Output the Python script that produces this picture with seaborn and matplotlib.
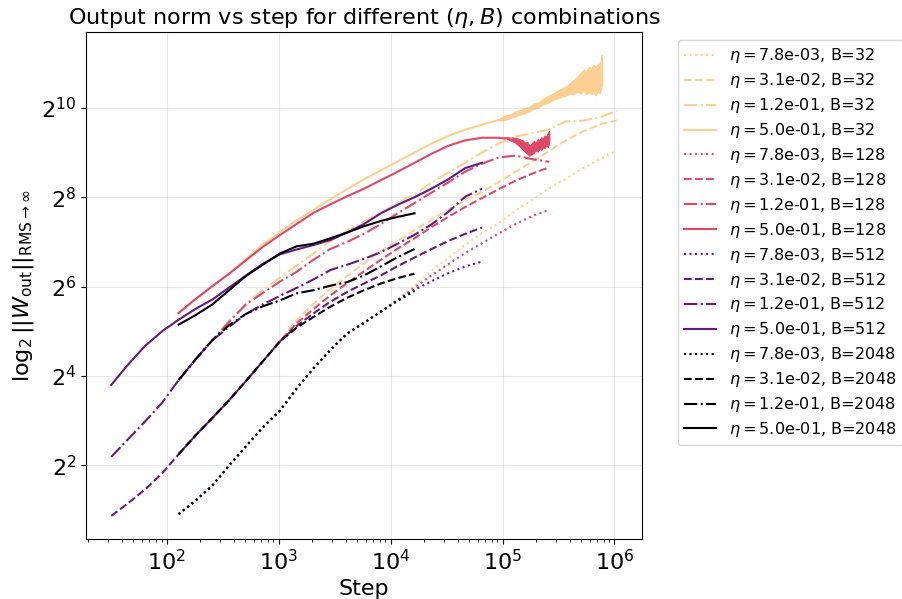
import numpy as np
import pandas as pd
import matplotlib
matplotlib.use("Agg")
import matplotlib.pyplot as plt
import matplotlib.ticker as mticker
import seaborn as sns

# ---------------- data ----------------
# logged steps (log-spaced grid, index 0..30)
STEPS = [32, 45, 64, 91, 128, 181, 256, 362, 512, 724, 1024, 1448, 2048, 2896,
         4096, 5793, 8192, 11585, 16384, 23170, 32768, 46341, 65536, 92682,
         131072, 185364, 262144, 370728, 524288, 741455, 1048576]

LRS = [0.0078125, 0.03125, 0.125, 0.5]
BATCHES = [32, 128, 512, 2048]

# log2 of the output norm, per (lr, B); B=512 starts at STEPS[0], others at STEPS[4]
# lr = 7.8e-03 (dotted)
dot_common = [0.91, 1.21, 1.55, 2.00, 2.43, 2.85, 3.22, 3.72, 4.17, 4.58, 4.95, 5.19, 5.44]
lr1_b2048 = dot_common + [5.68, 5.90]
lr1_b512 = dot_common + [5.70, 5.93, 6.12, 6.30, 6.45, 6.56]
lr1_b128 = dot_common + [5.70, 5.98, 6.25, 6.50, 6.75, 6.97, 7.19, 7.40, 7.58, 7.72]
lr1_b32 = dot_common + [5.72, 6.02, 6.35, 6.64, 6.93, 7.20, 7.42, 7.70, 7.95, 8.20,
                        8.42, 8.65, 8.85, 9.04]

# lr = 3.1e-02 (dashed)
dash_b512_early = [0.87, 1.15, 1.46, 1.82]
dash_common = [2.25, 2.67, 3.06, 3.46, 3.89, 4.33, 4.77]
lr2_b2048 = dash_common + [5.08, 5.32, 5.55, 5.75, 5.92, 6.07, 6.19, 6.29]
lr2_b512 = dash_b512_early + dash_common + [5.12, 5.40, 5.66, 5.88, 6.07, 6.25, 6.46,
                                            6.65, 6.84, 7.02, 7.18, 7.32]
lr2_b128 = dash_common + [5.18, 5.50, 5.80, 6.08, 6.34, 6.60, 6.85, 7.08, 7.33, 7.56,
                          7.78, 7.98, 8.18, 8.37, 8.53, 8.67]
lr2_b32 = dash_common + [5.25, 5.62, 5.94, 6.24, 6.52, 6.80, 7.02, 7.26, 7.50, 7.72,
                         7.93, 8.12, 8.34, 8.57, 8.80, 9.04, 9.28, 9.47, 9.63, 9.72]

# lr = 1.2e-01 (dash-dot)
dd_b512_early = [2.19, 2.58, 2.98, 3.40]
dd_common = [3.91, 4.37, 4.80]
lr3_b2048 = dd_common + [5.14, 5.39, 5.56, 5.69, 5.85, 5.92, 6.02, 6.10, 6.25, 6.45,
                         6.66, 6.84]
lr3_b512 = dd_b512_early + dd_common + [5.10, 5.39, 5.60, 5.79, 5.97, 6.16, 6.37, 6.49,
                                        6.62, 6.77, 6.96, 7.16, 7.39, 7.67, 8.01, 8.19]
lr3_b128 = dd_common + [5.22, 5.60, 5.86, 6.11, 6.33, 6.60, 6.84, 7.00, 7.18, 7.40,
                        7.64, 7.87, 8.10, 8.33, 8.57, 8.75, 8.89, 8.93, 8.85, 8.79]
lr3_b32 = dd_common + [5.22, 5.62, 5.92, 6.20, 6.47, 6.74, 7.02, 7.24, 7.45, 7.66,
                       7.86, 8.07, 8.32, 8.55, 8.77, 9.00, 9.20, 9.36, 9.43, 9.52,
                       9.70, 9.71, 9.79, 9.93]

# lr = 5.0e-01 (solid)
lr4_b512 = [3.80, 4.25, 4.67, 5.00, 5.26, 5.50, 5.71, 5.98, 6.25, 6.51, 6.72, 6.83,
            6.93, 7.04, 7.21, 7.40, 7.64, 7.83, 8.00, 8.19, 8.40, 8.65, 8.77]
lr4_b2048 = [5.15, 5.36, 5.60, 5.92, 6.24, 6.49, 6.74, 6.90, 6.96, 7.08, 7.21, 7.35,
             7.47, 7.56, 7.64]
lr4_b128 = [5.41, 5.72, 6.01, 6.29, 6.59, 6.89, 7.15, 7.40, 7.65, 7.84, 8.02, 8.19,
            8.38, 8.57, 8.77, 8.97, 9.15, 9.27, 9.33, 9.33]
lr4_b32 = [5.41, 5.72, 6.01, 6.29, 6.62, 6.94, 7.22, 7.48, 7.72, 7.95, 8.18, 8.40,
           8.60, 8.80, 9.00, 9.20, 9.37, 9.51, 9.62, 9.73]

# noisy tails of the eta=0.5 runs: lower / upper envelope of the oscillation (log2)
b128_tail_steps = [92682, 110000, 120000, 130000, 140000, 150000, 158000, 166000,
                   174000, 182000, 190000, 198000, 206000, 214000, 222000, 230000,
                   238000, 246000, 254000, 260000, 262144]
b128_tail_lo = [9.33, 9.30, 9.26, 9.22, 9.15, 9.08, 9.02, 8.97, 8.93, 8.96, 8.99,
                9.05, 9.02, 9.08, 9.06, 9.12, 9.10, 9.15, 9.12, 9.20, 9.28]
b128_tail_hi = [9.33, 9.34, 9.34, 9.33, 9.30, 9.28, 9.22, 9.24, 9.15, 9.20, 9.26,
                9.22, 9.30, 9.28, 9.34, 9.32, 9.38, 9.36, 9.44, 9.48, 9.46]
b32_tail_steps = [92682, 100000, 110000, 120000, 130000, 145000, 160000, 175000,
                  190000, 210000, 230000, 250000, 275000, 300000, 330000, 360000,
                  400000, 430000, 470000, 500000, 530000, 560000, 590000, 620000,
                  650000, 680000, 710000, 740000, 755000, 762000, 770000, 776000]
b32_tail_lo = [9.73, 9.72, 9.74, 9.78, 9.80, 9.86, 9.88, 9.93, 9.97, 10.01, 10.08,
               10.10, 10.16, 10.20, 10.24, 10.26, 10.32, 10.30, 10.36, 10.32, 10.38,
               10.30, 10.36, 10.30, 10.35, 10.28, 10.36, 10.32, 10.40, 10.45, 10.50,
               10.52]
b32_tail_hi = [9.73, 9.80, 9.84, 9.86, 9.92, 9.95, 10.00, 10.03, 10.10, 10.12, 10.20,
               10.26, 10.30, 10.36, 10.42, 10.46, 10.55, 10.62, 10.70, 10.78, 10.85,
               10.82, 10.92, 10.88, 10.96, 10.92, 10.98, 11.00, 11.05, 11.18, 11.12,
               11.10]

# ---------------- assemble long table ----------------
series = {
    (0.0078125, 32): (STEPS[4:], lr1_b32),
    (0.03125, 32): (STEPS[4:], lr2_b32),
    (0.125, 32): (STEPS[4:], lr3_b32),
    (0.5, 32): (STEPS[4:24], lr4_b32),
    (0.0078125, 128): (STEPS[4:], lr1_b128),
    (0.03125, 128): (STEPS[4:], lr2_b128),
    (0.125, 128): (STEPS[4:], lr3_b128),
    (0.5, 128): (STEPS[4:24], lr4_b128),
    (0.0078125, 512): (STEPS[4:], lr1_b512),
    (0.03125, 512): (STEPS, lr2_b512),
    (0.125, 512): (STEPS, lr3_b512),
    (0.5, 512): (STEPS, lr4_b512),
    (0.0078125, 2048): (STEPS[4:], lr1_b2048),
    (0.03125, 2048): (STEPS[4:], lr2_b2048),
    (0.125, 2048): (STEPS[4:], lr3_b2048),
    (0.5, 2048): (STEPS[4:], lr4_b2048),
}
tails = {
    32: (b32_tail_steps, b32_tail_lo, b32_tail_hi),
    128: (b128_tail_steps, b128_tail_lo, b128_tail_hi),
}

cmap = sns.color_palette("magma", as_cmap=True)
bcolor = {32: cmap(0.9), 128: cmap(0.6), 512: cmap(0.3), 2048: cmap(0.0)}
lrdash = {0.0078125: (1, 1.65), 0.03125: (3.7, 1.6), 0.125: (6.4, 1.6, 1, 1.6), 0.5: ""}

rows = []
order = []
palette = {}
dashes = {}
for B in BATCHES:
    for lr in LRS:
        label = r"$\eta=$" + f"{lr:.1e}, B={B}"
        order.append(label)
        palette[label] = bcolor[B]
        dashes[label] = lrdash[lr]
        st, lv = series[(lr, B)]
        n = min(len(st), len(lv))
        for s, v in zip(st[:n], lv[:n]):
            rows.append({"step": s, "norm": 2.0 ** v, "run": label})
df = pd.DataFrame(rows)

# ---------------- plot ----------------
plt.rcParams["font.family"] = ["DejaVu Sans"]
fig, ax = plt.subplots(figsize=(9.02, 5.99), dpi=100)
fig.subplots_adjust(left=0.0953, right=0.7118, top=0.9466, bottom=0.1002)

sns.lineplot(data=df, x="step", y="norm", hue="run", style="run",
             hue_order=order, style_order=order, palette=palette, dashes=dashes,
             estimator=None, sort=False, linewidth=1.5, ax=ax)

# noisy tails: band between min and max of the oscillation
for B in (32, 128):
    st, lo, hi = tails[B]
    tdf = pd.DataFrame({"step": st + st, "norm": [2.0 ** v for v in lo + hi]})
    sns.lineplot(data=tdf, x="step", y="norm", estimator="mean",
                 errorbar=("pi", 100), color=bcolor[B], linewidth=0.8,
                 err_kws={"alpha": 1.0, "linewidth": 0.8, "edgecolor": bcolor[B]},
                 legend=False, ax=ax)

ax.set_xscale("log")
ax.set_yscale("log", base=2)
ax.yaxis.set_major_locator(mticker.FixedLocator([2.0 ** k for k in (2, 4, 6, 8, 10)]))
ax.yaxis.set_major_formatter(mticker.LogFormatterSciNotation(base=2))
ax.yaxis.set_minor_locator(mticker.NullLocator())
ax.grid(True, which="major", alpha=0.3)
ax.tick_params(axis="both", which="major", labelsize=16)

ax.set_xlabel("Step", fontsize=16)
ax.set_ylabel(r"$\log_2 ||W_{\mathrm{out}}||_{\mathrm{RMS}\to\infty}$", fontsize=16)
ax.set_title(r"Output norm vs step for different $(\eta, B)$ combinations", fontsize=16)

handles, labels = ax.get_legend_handles_labels()
ax.legend(handles[:16], labels[:16], bbox_to_anchor=(1.05, 1), loc="upper left",
          fontsize=11.5, labelspacing=0.37)

fig.savefig("out.png", dpi=100)
